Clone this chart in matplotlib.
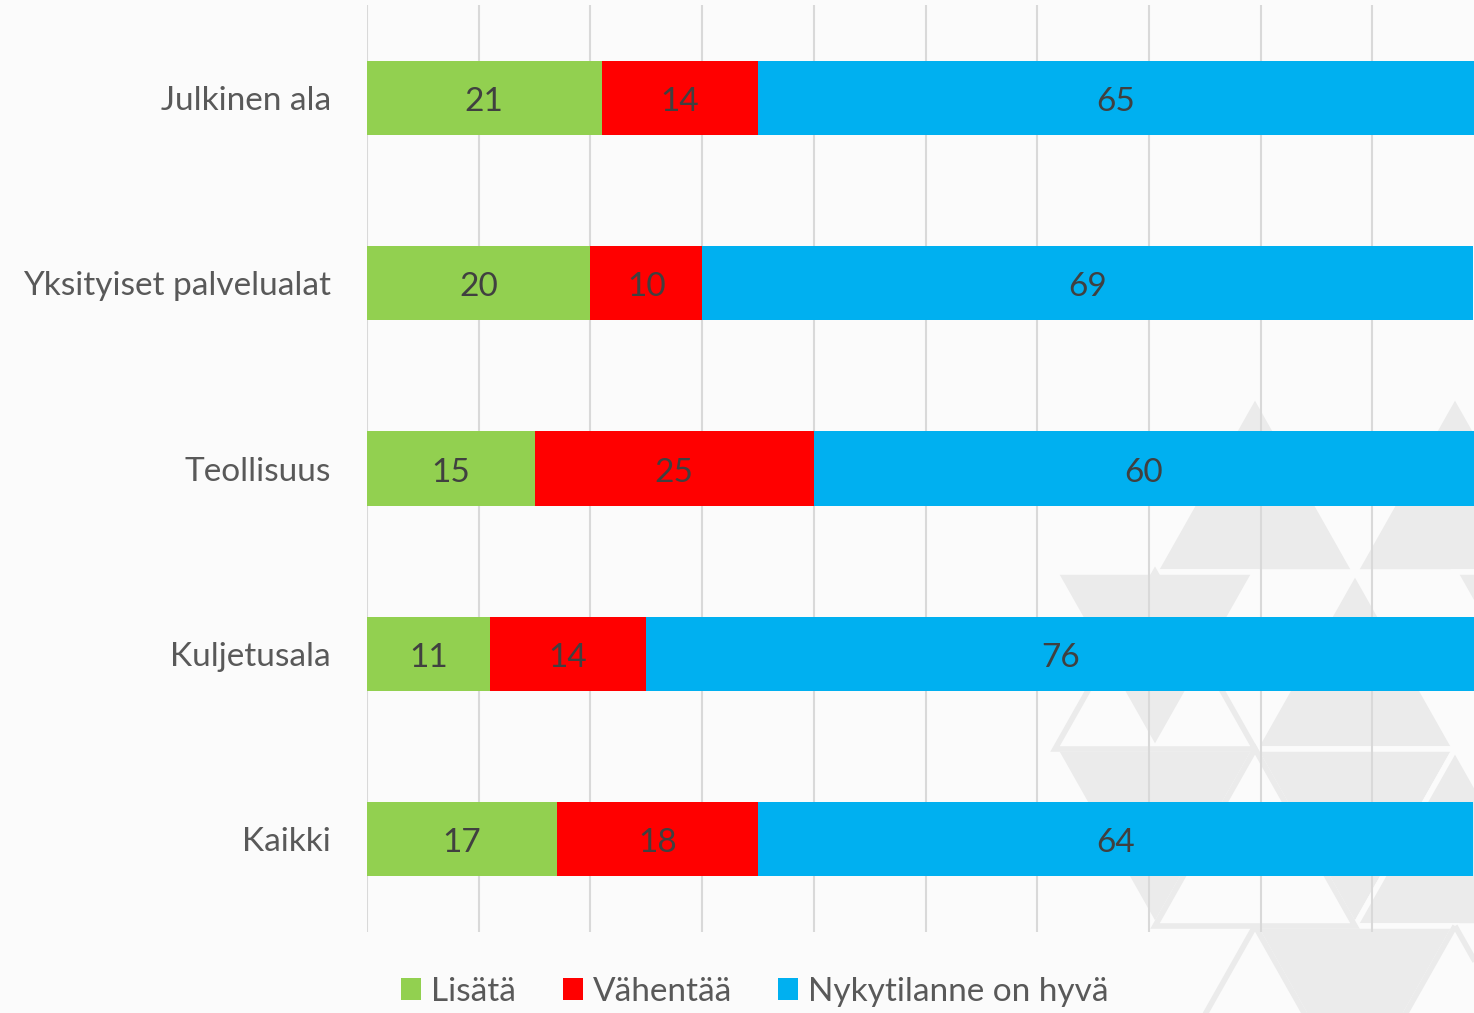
import matplotlib.pyplot as plt
from matplotlib.patches import Polygon

categories = ["Julkinen ala", "Yksityiset palvelualat", "Teollisuus", "Kuljetusala", "Kaikki"]
lisata = [21, 20, 15, 11, 17]
vahentaa = [14, 10, 25, 14, 18]
hyva = [65, 69, 60, 76, 64]
series_names = ["Lisätä", "Vähentää", "Nykytilanne on hyvä"]
colors = ["#92D050", "#FF0000", "#00B0F0"]

plt.rcParams['font.family'] = ['Lato', 'DejaVu Sans']

fig = plt.figure(figsize=(14.74, 10.13), dpi=100)
bgcol = "#FBFBFB"
fig.patch.set_facecolor(bgcol)

# faint triangle decoration in the lower right (pixel space)
bg = fig.add_axes([0, 0, 1, 1], zorder=0)
bg.set_xlim(0, 1474)
bg.set_ylim(1013, 0)
bg.axis("off")
top, rh, hw = 395, 177, 100
# (row, 'u'/'d', centre x) of the grey triangles
gray_tris = [(0, "u", 1255), (0, "u", 1455),
             (1, "d", 1155), (1, "u", 1355), (1, "d", 1555),
             (2, "d", 1155), (2, "d", 1355), (2, "u", 1455),
             (3, "d", 1355)]
for r, kind, xc in gray_tris:
    y0 = top + r * rh
    y1 = y0 + rh
    if kind == "u":
        pts = [[xc, y0], [xc - hw, y1], [xc + hw, y1]]
    else:
        pts = [[xc - hw, y0], [xc + hw, y0], [xc, y1]]
    bg.add_patch(Polygon(pts, closed=True, facecolor="#EBEBEB", edgecolor=bgcol, lw=4))
# outline-only triangles
outline = [(1, "u", 1155), (2, "u", 1255), (3, "u", 1255), (3, "u", 1455)]
for r, kind, xc in outline:
    y0 = top + r * rh
    bg.add_patch(Polygon([[xc, y0], [xc - hw, y0 + rh], [xc + hw, y0 + rh]], closed=True,
                         facecolor="none", edgecolor="#EBEBEB", lw=4))

ax = fig.add_axes([367 / 1474, 81 / 1013, 1 - 367 / 1474, (932 - 5) / 1013], zorder=1)
ax.patch.set_alpha(0)

ypos = list(range(len(categories)))
left = [0] * len(categories)
for vals, name, c in zip([lisata, vahentaa, hyva], series_names, colors):
    bars = ax.barh(ypos, vals, left=left, height=0.4, color=c, label=name, zorder=3)
    anns = ax.bar_label(bars, labels=[str(v) for v in vals], label_type="center",
                        fontsize=24, color="#404040")
    for a in anns:
        a.xyann = (0, -3)
    left = [a + b for a, b in zip(left, vals)]

ax.set_ylim(len(categories) - 0.5, -0.5)
ax.set_xlim(0, 99.1)
ax.set_yticks(ypos)
ax.set_yticklabels(categories, fontsize=24, color="#595959")
ax.tick_params(axis="y", length=0, pad=26)
ax.set_xticks(range(0, 100, 10))
ax.tick_params(axis="x", length=0, labelbottom=False)
ax.grid(axis="x", color="#D9D9D9", lw=1.5, zorder=0)
for s in ax.spines.values():
    s.set_visible(False)

fig.legend(loc="center left", bbox_to_anchor=(371 / 1474, 0.021), ncol=3, frameon=False,
           fontsize=24, labelcolor="#595959", handlelength=0.6, handleheight=0.6,
           handletextpad=0.3, columnspacing=1.4)

fig.savefig("out.png", dpi=100, facecolor=fig.get_facecolor())
